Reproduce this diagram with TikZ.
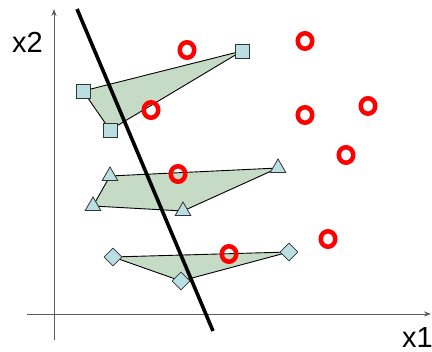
\documentclass[tikz,border=0pt]{standalone}
\usepackage{fontspec}
\setmainfont{Liberation Sans}
\usetikzlibrary{arrows.meta,shapes.geometric,backgrounds}
\definecolor{hullgreen}{RGB}{198,219,198}
\definecolor{markblue}{RGB}{186,223,227}
\definecolor{axisgray}{RGB}{90,90,90}

\begin{document}
\begin{tikzpicture}[
    x=1pt, y=-1pt,
    axis/.style={axisgray, line width=0.9pt, -{Stealth[length=7pt,width=5pt]}},
    hull/.style={draw=black, line width=0.9pt, fill=hullgreen},
    markbase/.style={draw=black!80, line width=0.8pt, fill=markblue, inner sep=0pt},
    sq/.style={markbase, rectangle, minimum size=14pt},
    tri/.style={markbase, regular polygon, regular polygon sides=3, minimum size=18pt},
    dia/.style={markbase, diamond, minimum size=18pt},
    ring/.style={draw=red, line width=4.5pt, ellipse, minimum width=14.5pt,
      minimum height=15.5pt, inner sep=0pt},
    lbl/.style={font=\fontsize{29}{31}\selectfont, inner sep=0pt},
  ]
  \useasboundingbox (0,0) rectangle (432,352);

  % Axes
  \draw[axis] (54,340) -- (54,9);
  \draw[axis] (27,314) -- (431,314);
  \node[lbl] (x2) at (27.5,42) {x2};
  \node[lbl, anchor=north west] (x1) at (402,327) {x1};

  % Square class
  \node[sq] (s1) at (83,91) {};
  \node[sq] (s2) at (110,130) {};
  \node[sq] (s3) at (242,51) {};

  % Triangle class
  \node[tri] (t1) at (110,176) {};
  \node[tri] (t2) at (93,206) {};
  \node[tri] (t3) at (183,211) {};
  \node[tri] (t4) at (278,168) {};

  % Diamond class
  \node[dia] (d1) at (113,257) {};
  \node[dia] (d2) at (181,281) {};
  \node[dia] (d3) at (289,252) {};

  % Convex hulls
  \begin{scope}[on background layer]
    \draw[hull] (s1.center) -- (s3.center) -- (s2.center) -- cycle;
    \draw[hull] (t1.center) -- (t4.center) -- (t3.center) -- (t2.center) -- cycle;
    \draw[hull] (d1.center) -- (d3.center) -- (d2.center) -- cycle;
  \end{scope}

  % Outliers
  \foreach \i/\p in {1/{(187,50)}, 2/{(305,41)}, 3/{(151,110)}, 4/{(305,115)},
                     5/{(368,106)}, 6/{(346,155)}, 7/{(178,174)}, 8/{(229,254)},
                     9/{(328,239)}}
    \node[ring] (r\i) at \p {};

  % Separating line
  \coordinate (la) at (77,9);
  \coordinate (lb) at (213,331);
  \draw[line width=3.6pt] (la) -- (lb);

\end{tikzpicture}
\end{document}
